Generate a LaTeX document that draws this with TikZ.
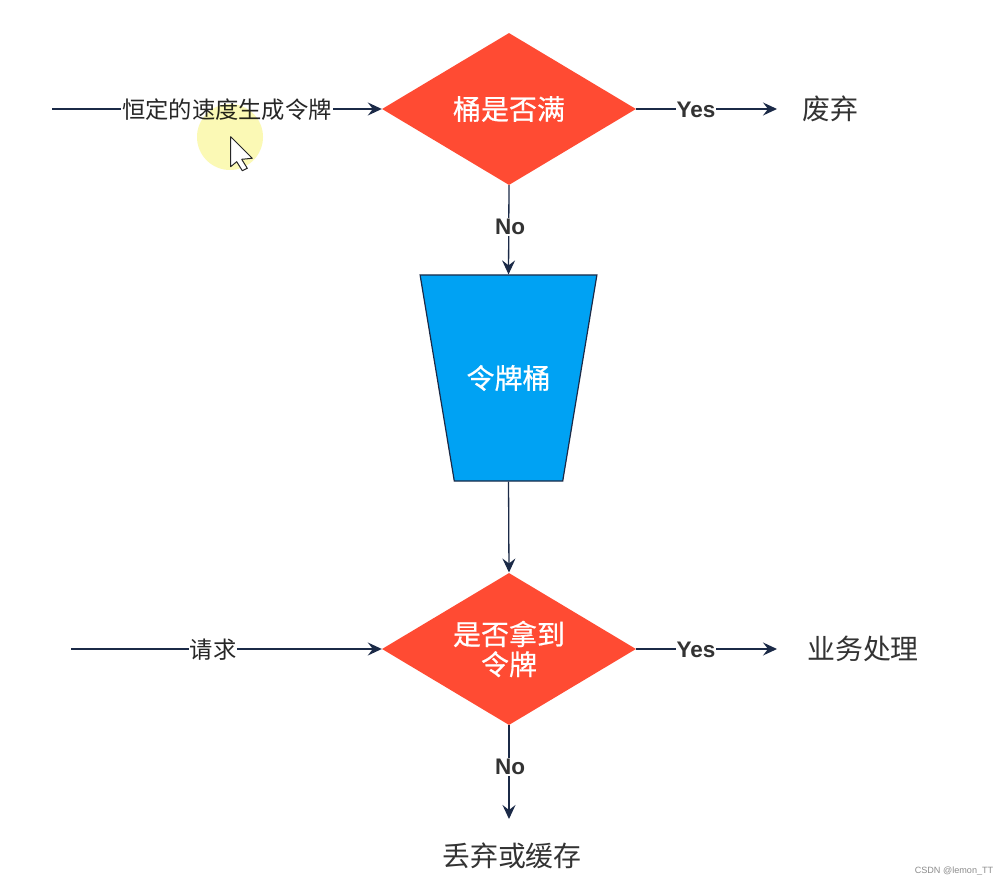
\documentclass[tikz,border=0pt]{standalone}
\usepackage{fontspec}
\setmainfont{Noto Sans CJK SC}
\newfontfamily\cjkmed[FakeBold=0.5]{Noto Sans CJK SC}
\newfontfamily\latinbold[BoldFont=Liberation Sans Bold]{Liberation Sans}
\newfontfamily\latinreg{Liberation Sans}
\usetikzlibrary{shapes.geometric,arrows.meta}
\definecolor{lineblue}{HTML}{1B2A47}
\definecolor{redfill}{HTML}{FF4B33}
\definecolor{bluefill}{HTML}{00A2F3}
\definecolor{textgrey}{HTML}{333333}
\definecolor{halo}{HTML}{FBF9B5}
\tikzset{
  flow/.style={draw=lineblue,line width=1.3pt,-{Stealth[length=14pt,width=13pt,inset=5pt]}},
  decision/.style={diamond,aspect=1.67,fill=redfill,draw=none,inner sep=0pt,minimum width=254pt,minimum height=152pt,text=white,align=center,font=\cjkmed\fontsize{28}{33}\selectfont},
  bucket/.style={trapezium,shape border rotate=180,trapezium left angle=44.5,trapezium right angle=44.5,trapezium stretches=true,fill=bluefill,draw=lineblue,line width=1.2pt,inner sep=0pt,minimum width=177pt,minimum height=206pt,text=white,font=\cjkmed\fontsize{28}{33}\selectfont},
  edgelabel/.style={fill=white,inner sep=1pt,text=textgrey,font=\latinbold\bfseries\fontsize{22.5}{26}\selectfont},
  flowtext/.style={fill=white,inner sep=1pt,text=black!85,font=\fontsize{23.3}{28}\selectfont},
  outcome/.style={text=textgrey,inner sep=0pt,font=\fontsize{27.9}{33}\selectfont}
}
\begin{document}
\begin{tikzpicture}[x=1pt,y=-1pt]
\path[use as bounding box,fill=white] (0,0) rectangle (1007,885);
% nodes
\node[decision] (full) at (509,109) {桶是否满};
\node[bucket] (tb) at (508.5,378) {令牌桶};
\node[decision] (got) at (509,649) {是否拿到\\[-3pt]令牌};
\node[outcome] (drop) at (830,109) {废弃};
\node[outcome] (biz) at (863,649) {业务处理};
\node[outcome] (cache) at (512,856) {丢弃或缓存};
\coordinate (s1) at (52,109);
\coordinate (s2) at (71,649);
\coordinate (e1) at (777,109);
\coordinate (e2) at (777,649);
\coordinate (e3) at (509,819);
\coordinate (gotin) at (509,572.5);
% connectors
\draw[flow] (s1) -- (full.west);
\draw[flow] (full.east) -- (e1);
\draw[flow] (full.south) -- (tb.north);
\draw[flow] (tb.south) -- (gotin);
\draw[flow] (s2) -- (got.west);
\draw[flow] (got.east) -- (e2);
\draw[flow] (got.south) -- (e3);
% labels on connectors
\node[flowtext] (rate) at (227,109.5) {恒定的速度生成令牌};
\node[flowtext] (req) at (213,649.5) {请求};
\node[edgelabel] (y1) at (696,110) {Yes};
\node[edgelabel] (n1) at (510,227) {No};
\node[edgelabel] (y2) at (696,650) {Yes};
\node[edgelabel] (n2) at (510,767) {No};
% mouse pointer with highlight
\fill[halo,blend mode=multiply] (230,137) circle (33);
\draw[fill=white,draw=black!85,line width=1pt,line join=round] (230.7,136.7) -- (252.3,158.3) -- (241.7,159.3) -- (247.3,168.3) -- (242.3,170.7) -- (236.7,161.7) -- (230.7,166.7) -- cycle;
% watermark
\node[inner sep=0pt,text=black!45,font=\latinreg\fontsize{9.1}{11}\selectfont] (wm) at (954,871) {CSDN @lemon\_TT};
\end{tikzpicture}
\end{document}
